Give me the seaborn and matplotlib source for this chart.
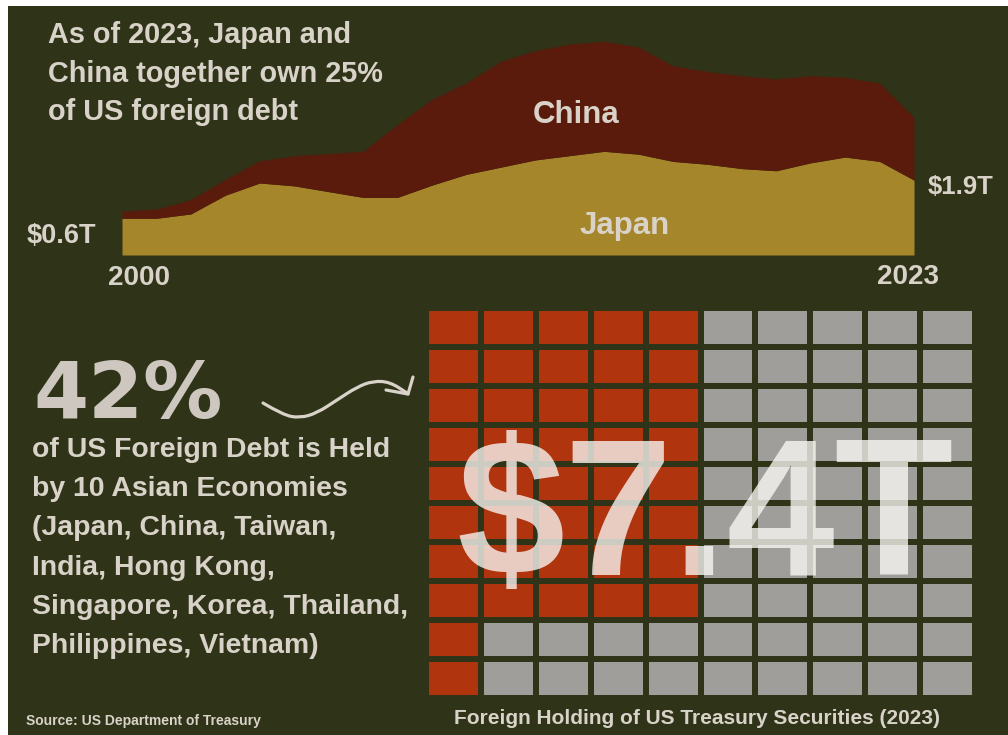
import numpy as np
import matplotlib
matplotlib.use("Agg")
import matplotlib.pyplot as plt
import seaborn as sns
from matplotlib.colors import ListedColormap
from matplotlib.patches import Rectangle, PathPatch
from matplotlib.path import Path
from matplotlib.lines import Line2D

# ---- data -------------------------------------------------------------
years = list(range(2000, 2024))
japan = [0.51, 0.51, 0.57, 0.83, 1.00, 0.96, 0.88, 0.80, 0.80, 0.97, 1.12, 1.22,
         1.32, 1.38, 1.44, 1.40, 1.30, 1.26, 1.20, 1.17, 1.28, 1.36, 1.30, 1.04]
china = [0.09, 0.12, 0.19, 0.21, 0.30, 0.41, 0.52, 0.63, 1.00, 1.18, 1.26, 1.46,
         1.51, 1.54, 1.52, 1.48, 1.32, 1.28, 1.28, 1.27, 1.20, 1.10, 1.08, 0.86]
start_label, end_label = "$0.6T", "$1.9T"

asia_share = 42          # percent of foreign-held treasuries, one cell per percent
grid_rows, grid_cols = 10, 10
block_rows = 8           # rows used by the partial columns after the first full column
total_foreign = "$7.4T"

# ---- style ------------------------------------------------------------
BG = "#2f3418"
TXT = "#d8d2c8"
GOLD = "#a6862a"
MAROON = "#5a1a0c"
RED = "#b0350f"
GREY = "#a09e9b"

sns.set_theme(style="white")
plt.rcParams["font.family"] = ["Liberation Sans", "DejaVu Sans"]
plt.rcParams["font.weight"] = "bold"

W, H = 1008, 735
fig = plt.figure(figsize=(W / 100, H / 100), dpi=100, facecolor="white")


def fx(x):
    return x / W


def fy(y):
    return 1 - y / H


def px_rect(x0, y0, x1, y1):
    return [fx(x0), fy(y1), (x1 - x0) / W, (y1 - y0) / H]


# dark panel behind everything
fig.patches.append(Rectangle((fx(8), 0), 1 - fx(8), fy(6), transform=fig.transFigure,
                             facecolor=BG, edgecolor="none", zorder=-10))

# ---- stacked area: Japan + China -------------------------------------
ax = fig.add_axes(px_rect(122, 30, 914, 255))
ax.set_facecolor("none")
yr = np.array(years)
jp = np.array(japan)
cn = np.array(china)
ax.fill_between(yr, 0, jp, color=GOLD, lw=0)
ax.fill_between(yr, jp, jp + cn, color=MAROON, lw=0)
sns.lineplot(x=yr, y=jp + cn, ax=ax, color=MAROON, lw=0.5)
ax.set_xlim(2000, 2023)
ax.set_ylim(0, 225 / 72)
ax.set_axis_off()

ax.text(2013.2, 1.84, "China", color=TXT, fontsize=22.5, ha="center", va="baseline",
        fontweight="bold")
ax.text(2014.6, 0.29, "Japan", color=TXT, fontsize=22.5, ha="center", va="baseline",
        fontweight="bold")

fig.text(fx(27), fy(243), start_label, color=TXT, fontsize=19.5, fontweight="bold")
fig.text(fx(928), fy(194), end_label, color=TXT, fontsize=18.5, fontweight="bold")
fig.text(fx(108), fy(285), str(years[0]), color=TXT, fontsize=20, fontweight="bold")
fig.text(fx(877), fy(284), str(years[-1]), color=TXT, fontsize=20, fontweight="bold")

# headline
for i, line in enumerate(["As of 2023, Japan and", "China together own 25%",
                          "of US foreign debt"]):
    fig.text(fx(48), fy(43 + i * 38.5), line, color=TXT, fontsize=20.8,
             fontweight="bold")

# ---- left-hand statement ---------------------------------------------
fig.text(fx(33), fy(418), f"{asia_share}%", color="#cdc7bf", fontsize=57,
         fontweight="bold", family=["DejaVu Sans"])
body = ["of US Foreign Debt is Held", "by 10 Asian Economies",
        "(Japan, China, Taiwan,", "India, Hong Kong,",
        "Singapore, Korea, Thailand,", "Philippines, Vietnam)"]
for i, line in enumerate(body):
    fig.text(fx(32), fy(457 + i * 39.2), line, color=TXT, fontsize=20.4,
             fontweight="bold")

# curved arrow pointing at the grid
pts = [(263, 403), (283, 415), (300, 418), (317, 413), (337, 400), (357, 387),
       (373, 381), (390, 382), (407, 393)]
verts = [pts[0]]
codes = [Path.MOVETO]
for a, b in zip(pts[1:-1], pts[2:]):
    verts += [a, ((a[0] + b[0]) / 2, (a[1] + b[1]) / 2)]
    codes += [Path.CURVE3, Path.CURVE3]
verts.append(pts[-1])
codes.append(Path.LINETO)
verts = [(fx(x), fy(y)) for x, y in verts]
fig.patches.append(PathPatch(Path(verts, codes), transform=fig.transFigure,
                             facecolor="none", edgecolor=TXT, lw=2.3,
                             capstyle="round", zorder=3))
for arm in [(386, 390), (413, 377)]:
    fig.lines.append(Line2D([fx(arm[0]), fx(408)], [fy(arm[1]), fy(394)],
                            transform=fig.transFigure, color=TXT, lw=2.3,
                            solid_capstyle="round", zorder=3))

fig.text(fx(26), fy(725), "Source: US Department of Treasury", color=TXT,
         fontsize=10, fontweight="bold")

# ---- waffle grid -------------------------------------------------------
cells = np.zeros((grid_rows, grid_cols))
cells[:, 0] = 1
extra_cols = (asia_share - grid_rows) // block_rows
cells[:block_rows, 1:1 + extra_cols] = 1

axw = fig.add_axes(px_rect(426, 308, 975, 698))
sns.heatmap(cells, ax=axw, cmap=ListedColormap([GREY, RED]), cbar=False,
            linewidths=3.2, linecolor=BG, xticklabels=False, yticklabels=False)
axw.set_axis_off()

fig.text(fx(705), fy(575), total_foreign, color="#faf8f5", alpha=0.78, fontsize=140,
         fontweight="bold", ha="center", va="baseline", zorder=5)

fig.text(fx(697), fy(724), "Foreign Holding of US Treasury Securities (2023)",
         color=TXT, fontsize=15, fontweight="bold", ha="center")

fig.savefig("out.png", dpi=100, facecolor=fig.get_facecolor())
